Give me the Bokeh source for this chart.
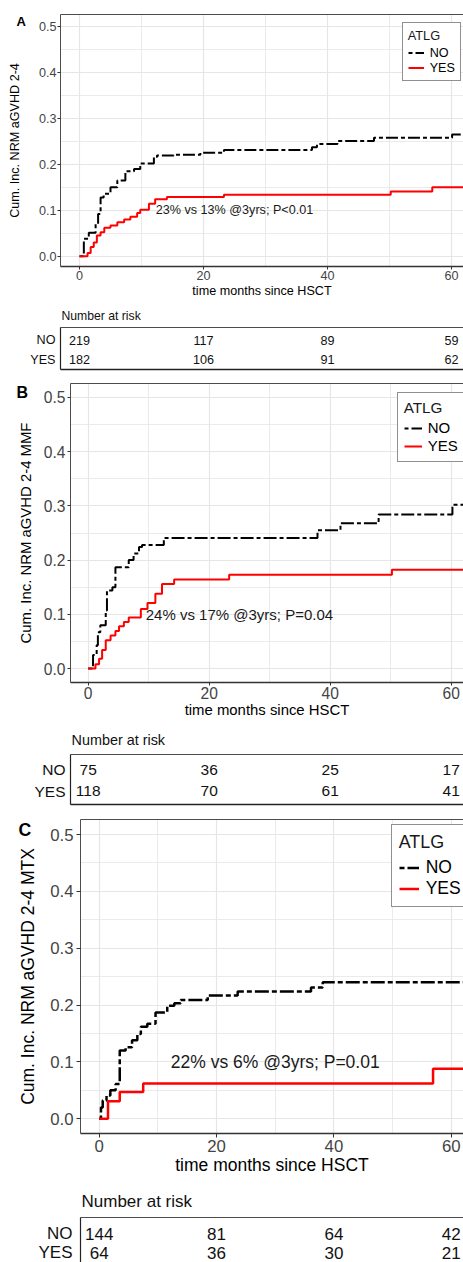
from bokeh.plotting import figure
from bokeh.layouts import column
from bokeh.models import (Range1d, FixedTicker, LinearAxis, Legend, LegendItem, Label, Title,
                          ColumnDataSource, PrintfTickFormatter)
from bokeh.embed import file_html
from bokeh.resources import INLINE
from bokeh.core.properties import value

FONT = "Liberation Sans"

# ---------------- data ----------------
groups = ["NO", "YES"]
risk_times = [0, 20, 40, 60]
y_ticks = [0.0, 0.1, 0.2, 0.3, 0.4, 0.5]
y_minor = [0.05, 0.15, 0.25, 0.35, 0.45]
x_ticks = [0, 20, 40, 60]
x_minor = [10, 30, 50]
row_pos = {"NO": 2, "YES": 1}

# Panel A (all)
a_no_t = [0, 0.7, 1.5, 2.6, 3.0, 3.4, 3.9, 5.0, 6.1, 7.4, 8.8, 9.8, 12.0, 12.5, 15.2, 19.5, 23.3, 37.5, 38.3, 41.6, 47.5, 60.1, 65]
a_no_v = [0, 0.038, 0.051, 0.070, 0.092, 0.128, 0.136, 0.150, 0.165, 0.185, 0.190, 0.202, 0.216, 0.219, 0.221, 0.225, 0.231, 0.237, 0.244, 0.251, 0.258, 0.265, 0.265]
a_yes_t = [0, 1.3, 1.8, 2.3, 2.8, 3.4, 4.0, 5.0, 6.1, 7.2, 8.2, 9.3, 9.8, 11.2, 12.2, 14.1, 23.3, 50.2, 56.9, 65]
a_yes_v = [0, 0.007, 0.020, 0.030, 0.045, 0.052, 0.062, 0.067, 0.074, 0.080, 0.086, 0.094, 0.101, 0.114, 0.124, 0.129, 0.134, 0.141, 0.150, 0.150]
a_risk_no = [219, 117, 89, 59]
a_risk_yes = [182, 106, 91, 62]
a_text = "23% vs 13% @3yrs; P<0.01"
a_text_xy = (25, 0.1)

# Panel B (MMF)
b_no_t = [0, 0.8, 1.4, 1.6, 2.0, 2.9, 3.1, 4.0, 4.5, 6.7, 7.5, 8.4, 8.9, 12.5, 37.9, 41.7, 48.0, 60.2, 65]
b_no_v = [0, 0.025, 0.043, 0.067, 0.080, 0.107, 0.144, 0.150, 0.187, 0.200, 0.212, 0.224, 0.228, 0.241, 0.255, 0.268, 0.284, 0.302, 0.302]
b_yes_t = [0, 1.2, 1.8, 2.3, 2.9, 3.7, 4.5, 5.1, 5.9, 6.7, 8.7, 9.8, 11.1, 12.2, 14.2, 23.3, 50.2, 65]
b_yes_v = [0, 0.008, 0.018, 0.034, 0.052, 0.061, 0.069, 0.078, 0.086, 0.094, 0.110, 0.121, 0.138, 0.156, 0.164, 0.173, 0.182, 0.182]
b_risk_no = [75, 36, 25, 17]
b_risk_yes = [118, 70, 61, 41]
b_text = "24% vs 17% @3yrs; P=0.04"
b_text_xy = (25, 0.1)

# Panel C (MTX)
c_no_t = [0, 0.3, 0.6, 1.25, 1.9, 2.8, 3.5, 4.5, 5.6, 6.5, 7.1, 8.2, 9.6, 11.6, 12.8, 13.9, 18.5, 23.6, 36.1, 38.1, 65]
c_no_v = [0, 0.020, 0.032, 0.041, 0.050, 0.061, 0.120, 0.126, 0.138, 0.149, 0.162, 0.167, 0.187, 0.199, 0.203, 0.209, 0.217, 0.224, 0.231, 0.240, 0.240]
c_yes_t = [0, 1.5, 3.5, 7.5, 56.9, 65]
c_yes_v = [0, 0.031, 0.047, 0.062, 0.088, 0.088]
c_risk_no = [144, 81, 64, 42]
c_risk_yes = [64, 36, 30, 21]
c_text = "22% vs 6% @3yrs; P=0.01"
c_text_xy = (30, 0.1)

WIDTH = 463
RED = "#ff0000"
GRID = "#e6e6e6"
BORDER = "#4d4d4d"


def px(v):
    return "%.1fpx" % v


def border_axis(color, width):
    return LinearAxis(ticker=FixedTicker(ticks=[]), major_label_text_font_size="0px",
                      major_tick_out=0, major_tick_in=0, minor_tick_out=0, minor_tick_in=0,
                      major_label_standoff=0, axis_line_color=color, axis_line_width=width)


def make_panel(cfg, no_t, no_v, yes_t, yes_v, risk_no, risk_yes, ann, ann_xy):
    L, T, FH, B = cfg["L"], cfg["T"], cfg["FH"], cfg["B"]
    xr = Range1d(*cfg["xr"])
    yr = Range1d(*cfg["yr"])
    fs = cfg["fs"]
    p = figure(width=WIDTH, height=T + FH + B, x_range=xr, y_range=yr,
               output_backend="svg", toolbar_location=None,
               min_border_left=L, min_border_right=0, min_border_top=T, min_border_bottom=B,
               x_axis_location="below", y_axis_location="left")
    p.frame_align = False
    p.outline_line_color = None
    p.background_fill_color = "white"
    p.border_fill_color = "white"

    # panel letter as the plot title, pulled down beside the frame's top
    p.title.text = cfg["letter"]
    p.title.align = "left"
    p.title.vertical_align = "bottom"
    p.title.offset = cfg["letter_off"]
    p.title.standoff = cfg["letter_std"]
    p.title.text_font = FONT
    p.title.text_font_size = px(fs["letter"])
    p.title.text_font_style = "bold"
    p.title.text_color = "black"

    xa = p.xaxis[0]
    ya = p.yaxis[0]
    xa.ticker = FixedTicker(ticks=x_ticks, minor_ticks=x_minor)
    ya.ticker = FixedTicker(ticks=y_ticks, minor_ticks=y_minor)
    ya.formatter = PrintfTickFormatter(format="%.1f")
    for ax in (xa, ya):
        ax.major_label_text_font = FONT
        ax.major_label_text_font_size = px(fs["tick"])
        ax.major_label_text_color = "#444444"
        ax.axis_label_text_font = FONT
        ax.axis_label_text_font_size = px(fs["title"])
        ax.axis_label_text_font_style = "normal"
        ax.axis_label_text_color = "black"
        ax.major_tick_out = cfg["tick_out"]
        ax.major_tick_in = 0
        ax.minor_tick_out = 0
        ax.minor_tick_in = 0
        ax.major_tick_line_color = "#333333"
    xa.axis_label = "time months since HSCT"
    xa.axis_line_color = "#333333"
    xa.axis_line_width = 1.5
    ya.axis_line_color = BORDER
    ya.axis_line_width = 1
    xa.major_label_standoff = cfg["x_std"]
    ya.major_label_standoff = cfg["y_std"]
    xa.axis_label_standoff = cfg["x_lab_std"]
    p.add_layout(border_axis(BORDER, 1), "above")

    # y-axis title: a rotated title placed against the frame, pulled out to the left
    ytitle = Title(text=cfg["ylabel"], align="center", vertical_align="top",
                   standoff=cfg["ytitle_std"], text_font=FONT,
                   text_font_size=px(fs["title"]), text_font_style="normal",
                   text_color="black")
    p.left = [ytitle] + list(p.left)

    for g in (p.xgrid[0], p.ygrid[0]):
        g.grid_line_color = GRID
        g.grid_line_width = 1.2
        g.minor_grid_line_color = GRID
        g.minor_grid_line_width = 0.8

    lw = cfg["lw"]
    src_no = ColumnDataSource(dict(t=no_t, v=no_v))
    src_yes = ColumnDataSource(dict(t=yes_t, v=yes_v))
    r_no = p.step(x="t", y="v", source=src_no, mode="after", line_color="black",
                  line_width=lw, line_dash=cfg["dash"])
    r_yes = p.step(x="t", y="v", source=src_yes, mode="after", line_color=RED,
                   line_width=lw)

    p.add_layout(Label(x=ann_xy[0], y=ann_xy[1], text=ann, text_font=FONT,
                       text_font_size=px(fs["ann"]), text_color="#1a1a1a",
                       text_align="center", text_baseline="middle"))

    lg = cfg["leg"]
    legend = Legend(items=[LegendItem(label=groups[0], renderers=[r_no]),
                           LegendItem(label=groups[1], renderers=[r_yes])],
                    title="ATLG", location=lg["loc"], margin=0,
                    padding=lg["pad"], spacing=0, title_standoff=lg["tstd"],
                    label_height=lg["lh"], glyph_height=lg["lh"], glyph_width=lg["gw"],
                    label_standoff=lg["lstd"],
                    title_text_font=FONT, title_text_font_size=px(fs["ltitle"]),
                    title_text_font_style="normal", title_text_color="#1a1a1a",
                    label_text_font=FONT, label_text_font_size=px(fs["llabel"]),
                    label_text_color="black",
                    border_line_color="#222222", border_line_width=1,
                    background_fill_color="white", background_fill_alpha=1)
    p.add_layout(legend)

    # ---- number at risk table ----
    tc = cfg["tab"]
    t = figure(width=WIDTH, height=tc["T"] + tc["FH"] + tc["B"], x_range=xr,
               y_range=Range1d(*tc["yr"]), output_backend="svg", toolbar_location=None,
               min_border_left=L, min_border_right=0, min_border_top=tc["T"],
               min_border_bottom=tc["B"], x_axis_location=None, y_axis_location="left")
    t.frame_align = False
    t.outline_line_color = None
    t.grid.visible = False
    t.background_fill_color = "white"
    t.border_fill_color = "white"
    t.title.text = "Number at risk"
    t.title.align = "left"
    t.title.vertical_align = "middle"
    t.title.offset = 1
    t.title.standoff = tc["title_std"]
    t.title.text_font = FONT
    t.title.text_font_size = px(fs["rtitle"])
    t.title.text_font_style = "normal"
    t.title.text_color = "#111111"

    ty = t.yaxis[0]
    ty.ticker = FixedTicker(ticks=[row_pos["YES"], row_pos["NO"]])
    ty.major_label_overrides = {row_pos["NO"]: "NO", row_pos["YES"]: "YES"}
    ty.major_label_text_font = FONT
    ty.major_label_text_font_size = px(fs["risk"])
    ty.major_label_text_color = "#111111"
    ty.major_tick_out = 0
    ty.major_tick_in = 0
    ty.minor_tick_out = 0
    ty.minor_tick_in = 0
    ty.major_label_standoff = tc["std"]
    ty.axis_line_color = "#222222"
    ty.axis_line_width = 1.2
    t.add_layout(border_axis(BORDER, 1), "above")
    if tc["B"] > 0:
        t.add_layout(border_axis("#222222", 1.5), "below")

    src_risk = ColumnDataSource(dict(
        x=risk_times + risk_times,
        y=[row_pos["NO"]] * len(risk_no) + [row_pos["YES"]] * len(risk_yes),
        txt=[str(v) for v in risk_no] + [str(v) for v in risk_yes]))
    t.text(x="x", y="y", text="txt", source=src_risk, text_font=value(FONT),
           text_font_size=value(px(fs["risk"])), text_color="#111111",
           text_align="center", text_baseline="middle")
    return p, t


cfgA = dict(L=60, T=14, FH=252, B=36, xr=(-3.065, 61.94), yr=(-0.0224, 0.5261),
            fs=dict(tick=12.6, title=12.6, ann=12.6, ltitle=12.8, llabel=12.6, letter=13,
                    risk=12.6, rtitle=12.2),
            tick_out=3, x_std=1, y_std=1, x_lab_std=1, ytitle_std=-106, lw=2,
            dash="4 3 12 3",
            ylabel="Cum. Inc. NRM aGVHD 2-4",
            leg=dict(loc=(341.7, 185), pad=5, tstd=2, lh=15, gw=16, lstd=6),
            letter="A", letter_off=-44, letter_std=-29,
            tab=dict(T=25, FH=42, B=6, yr=(0.474, 2.684), std=5, title_std=8))

cfgB = dict(L=70, T=8, FH=299, B=42, xr=(-2.926, 62.03), yr=(-0.0258, 0.5258),
            fs=dict(tick=15.6, title=14.9, ann=15, ltitle=15.3, llabel=15, letter=16,
                    risk=15.5, rtitle=14.4),
            tick_out=3, x_std=1, y_std=2, x_lab_std=0, ytitle_std=-105, lw=2,
            dash="4 3 13 3",
            ylabel="Cum. Inc. NRM aGVHD 2-4 MMF",
            leg=dict(loc=(326.7, 220.3), pad=6, tstd=2, lh=18, gw=18, lstd=6),
            letter="B", letter_off=-54, letter_std=-34,
            tab=dict(T=30, FH=50, B=6, yr=(0.409, 2.682), std=5, title_std=11))

cfgC = dict(L=80, T=9, FH=314, B=50, xr=(-3.187, 62.09), yr=(-0.0259, 0.5264),
            fs=dict(tick=16.8, title=17.5, ann=17.5, ltitle=17.9, llabel=17.5, letter=17.7,
                    risk=17, rtitle=17),
            tick_out=4, x_std=2, y_std=3, x_lab_std=0, ytitle_std=-126, lw=2.5,
            dash="5 3 14 3",
            ylabel="Cum. Inc. NRM aGVHD 2-4 MTX",
            leg=dict(loc=(310.7, 226), pad=7, tstd=4, lh=21, gw=20, lstd=7),
            letter="C", letter_off=-62, letter_std=-41,
            tab=dict(T=34, FH=45, B=0, yr=(0.474, 2.842), std=8, title_std=12))

pA, tA = make_panel(cfgA, a_no_t, a_no_v, a_yes_t, a_yes_v, a_risk_no, a_risk_yes, a_text, a_text_xy)
pB, tB = make_panel(cfgB, b_no_t, b_no_v, b_yes_t, b_yes_v, b_risk_no, b_risk_yes, b_text, b_text_xy)
pC, tC = make_panel(cfgC, c_no_t, c_no_v, c_yes_t, c_yes_v, c_risk_no, c_risk_yes, c_text, c_text_xy)

layout = column(pA, tA, pB, tB, pC, tC, spacing=0)
open("out.html", "w").write(file_html(layout, INLINE))
